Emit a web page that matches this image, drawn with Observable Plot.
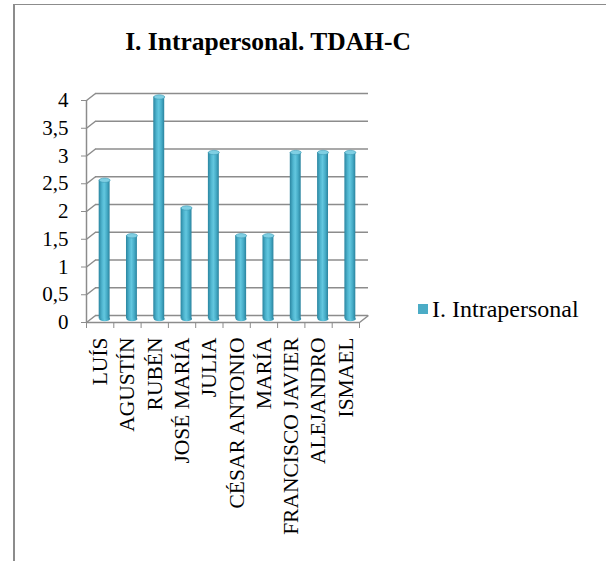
<!DOCTYPE html>
<html>
<head>
<meta charset="utf-8">
<script src="https://cdn.jsdelivr.net/npm/d3@7"></script>
<script src="https://cdn.jsdelivr.net/npm/@observablehq/plot@0.6"></script>
<style>
  html, body { margin: 0; padding: 0; background: #fff; }
  #wrap { position: relative; width: 606px; height: 561px; overflow: hidden; font-family: "Liberation Serif", Tinos, "DejaVu Serif", "Noto Serif", serif; }
  .bl { position: absolute; left: 13px; top: 4px; width: 2px; height: 557px; background: #8c8c8c; }
  .bt { position: absolute; left: 13px; top: 4px; width: 593px; height: 1px; background: #8c8c8c; }
  #title { position: absolute; left: 0; top: 29px; width: 536px; text-align: center; font-weight: bold; font-size: 25.5px; line-height: 25px; color: #000; }
  #legend { position: absolute; left: 418px; top: 297px; font-size: 24px; line-height: 24px; color: #000; white-space: nowrap; }
  #legend .sw { position: absolute; left: 0; top: 7px; width: 10px; height: 10px; background: #4bacc6; }
  #legend .lt { position: absolute; left: 14px; top: 0; }
  #chart { position: absolute; left: 0; top: 0; }
  #chart svg text { font-family: "Liberation Serif", Tinos, "DejaVu Serif", "Noto Serif", serif; }
</style>
</head>
<body>
<div id="wrap">
  <div class="bl"></div>
  <div class="bt"></div>
  <div id="chart"></div>
  <div id="title"></div>
  <div id="legend"><div class="sw"></div><div class="lt"></div></div>
</div>
<script>
const chartTitle = "I. Intrapersonal. TDAH-C";
const seriesName = "I. Intrapersonal";
const names = ["LUÍS", "AGUSTÍN", "RUBÉN", "JOSÉ MARÍA", "JULIA", "CÉSAR ANTONIO", "MARÍA", "FRANCISCO JAVIER", "ALEJANDRO", "ISMAEL"];
const values = [2.5, 1.5, 4, 2, 3, 1.5, 1.5, 3, 3, 3];
const yTicks = [0, 0.5, 1, 1.5, 2, 2.5, 3, 3.5, 4];

document.getElementById("title").textContent = chartTitle;
document.querySelector("#legend .lt").textContent = seriesName;

const W = 606, H = 561;
const pLeft = 86, pRight = 359, pTop = 100, pBottom = 322;
const n = names.length;
const yMax = yTicks[yTicks.length - 1];
const kx = (pRight - pLeft) / n, ky = (pBottom - pTop) / yMax;
const DX = 9, DY = 7;             // 3D depth offset in px
const ux = DX / kx, uy = DY / ky; // same offset in data units
const grid = "#8c8c8c";
const serif = "'Liberation Serif', Tinos, 'DejaVu Serif', 'Noto Serif', serif";

const rows = names.map((name, i) => ({name, i, value: values[i]}));

const kk = 0.5523;
const ellipse = (rx, ry) => ({
  draw(c) {
    c.moveTo(-rx, 0);
    c.bezierCurveTo(-rx, -kk * ry, -kk * rx, -ry, 0, -ry);
    c.bezierCurveTo(kk * rx, -ry, rx, -kk * ry, rx, 0);
    c.bezierCurveTo(rx, kk * ry, kk * rx, ry, 0, ry);
    c.bezierCurveTo(-kk * rx, ry, -rx, kk * ry, -rx, 0);
    c.closePath();
  }
});

const svg = Plot.plot({
  width: W,
  height: H,
  marginLeft: pLeft,
  marginRight: W - pRight,
  marginTop: pTop,
  marginBottom: H - pBottom,
  style: {fontFamily: serif, fontSize: "21px", color: "#000", background: "transparent", overflow: "visible"},
  x: {type: "linear", domain: [0, n], axis: null},
  y: {domain: [0, yMax], axis: null},
  marks: [
    Plot.ruleY(yTicks, {x1: 0, x2: n, dx: DX, dy: -DY, stroke: grid, strokeWidth: 1.5}),
    Plot.link(yTicks, {x1: 0, y1: d => d, x2: ux, y2: d => d + uy, stroke: grid, strokeWidth: 1.5}),
    Plot.link([0], {x1: n, y1: 0, x2: n + ux, y2: uy, stroke: grid, strokeWidth: 1.5}),
    Plot.ruleX([0], {y1: 0, y2: yMax, stroke: grid, strokeWidth: 1.5}),
    Plot.ruleY([0], {x1: 0, x2: n, stroke: grid, strokeWidth: 1.5}),
    Plot.axisY(yTicks, {tickSize: 5, tickPadding: 13, tickFormat: d => String(d).replace(".", ","), stroke: grid, fill: "#000", fontSize: 21, label: null}),
    Plot.axisX(d3.range(n + 1), {tickSize: 6, tickFormat: () => "", stroke: grid, label: null}),
    Plot.dot(rows, {x: d => d.i + 0.5, y: 0, dx: DX / 2, dy: -DY / 2, symbol: ellipse(5.5, 2.2), fill: "url(#cyl)", stroke: "none"}),
    Plot.rectY(rows, {x1: d => d.i + 0.3, x2: d => d.i + 0.7, y1: 0, y2: "value", dx: DX / 2, dy: -DY / 2, fill: "url(#cyl)"}),
    Plot.dot(rows, {x: d => d.i + 0.5, y: "value", dx: DX / 2, dy: -DY / 2, symbol: ellipse(5.5, 2.2), fill: "#7fcfe3", stroke: "#3b99b3", strokeWidth: 0.6}),
    Plot.text(rows, {x: d => d.i + 0.5, y: 0, text: "name", rotate: -90, textAnchor: "end", dy: 15, fontSize: 21.5, fill: "#000"})
  ]
});

const defs = d3.select(svg).insert("defs", ":first-child");
const g = defs.append("linearGradient").attr("id", "cyl").attr("x1", "0").attr("x2", "1").attr("y1", "0").attr("y2", "0");
[[0, "#2a85a0"], [0.3, "#4fb5cf"], [0.5, "#63c7df"], [0.75, "#46acc7"], [1, "#2a839e"]]
  .forEach(([o, c]) => g.append("stop").attr("offset", o).attr("stop-color", c));

document.getElementById("chart").appendChild(svg);
</script>
</body>
</html>
